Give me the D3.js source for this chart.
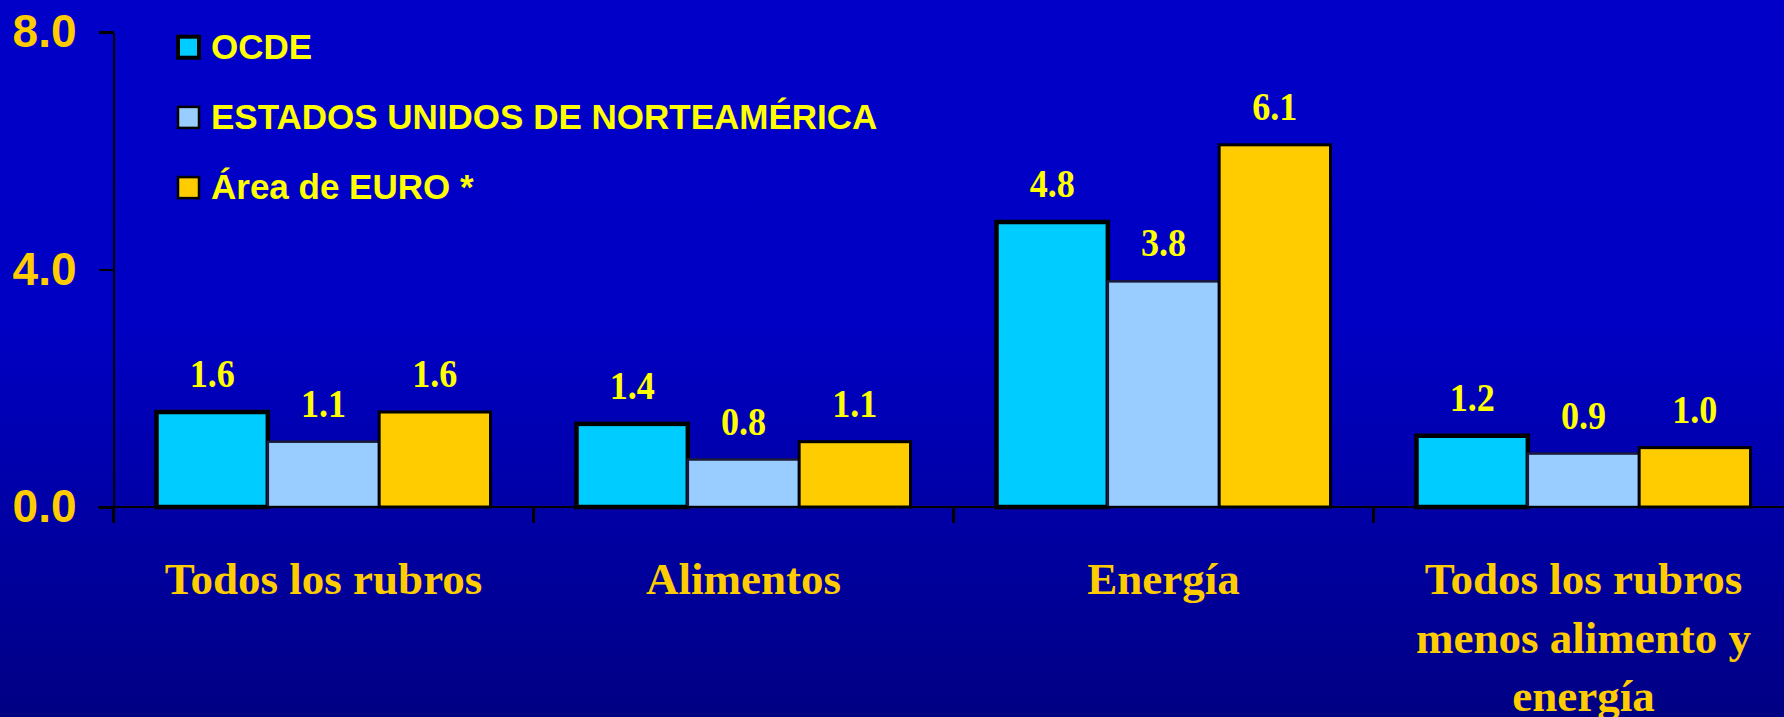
<!DOCTYPE html>
<meta charset="utf-8">
<style>
body {
  margin: 0;
  background-color: #0000C8;
}
.axis path,
.axis line {
  fill: none;
  stroke: #000;
  stroke-width: 2.5px;
  shape-rendering: crispEdges;
}
.axis--y text {
  font: bold 46px "Liberation Sans", Arial, sans-serif;
  fill: #FFCC00;
}
.legend text {
  font: bold 35px "Liberation Sans", Arial, sans-serif;
  fill: #FFFF00;
}
.value {
  font: bold 41px "Liberation Serif", "Times New Roman", serif;
  fill: #FFFF00;
  text-anchor: middle;
}
.cat {
  font: bold 45px "Liberation Serif", "Times New Roman", serif;
  fill: #FFCC00;
  text-anchor: middle;
}
</style>
<body>
<svg width="1784" height="717"></svg>
<script src="https://d3js.org/d3.v7.min.js"></script>
<script>
// data
var categories = ["Todos los rubros", "Alimentos", "Energía", "Todos los rubros menos alimento y energía"];
var catLines = [["Todos los rubros"], ["Alimentos"], ["Energía"], ["Todos los rubros", "menos alimento y", "energía"]];
var series = ["OCDE", "ESTADOS UNIDOS DE NORTEAMÉRICA", "Área de EURO *"];
var ocde = [1.6, 1.4, 4.8, 1.2];
var eeuu = [1.1, 0.8, 3.8, 0.9];
var euro = [1.6, 1.1, 6.1, 1.0];
var yTicks = [0, 4, 8];

var colors = ["#00CCFF", "#99CCFF", "#FFCC00"];
var strokes = [{c: "#000", w: 4.5}, {c: "#1a1a3a", w: 2.5}, {c: "#000", w: 3}];

var svg = d3.select("svg");

// background gradient
var grad = svg.append("defs").append("linearGradient")
    .attr("id", "bg").attr("x1", 0).attr("y1", 0).attr("x2", 0).attr("y2", 1);
grad.append("stop").attr("offset", "0%").attr("stop-color", "#0000C8");
grad.append("stop").attr("offset", "45%").attr("stop-color", "#0000C4");
grad.append("stop").attr("offset", "100%").attr("stop-color", "#000084");
svg.append("rect").attr("width", 1784).attr("height", 717).attr("fill", "url(#bg)");

var values = [ocde, eeuu, euro];
var data = categories.map(function(c, i) {
  return {cat: c, vals: values.map(function(v, s) { return {s: s, v: v[i]}; })};
});

var x0 = d3.scaleBand().domain(categories).range([113.5, 1793.5]).padding(0);
var x1 = d3.scaleBand().domain(d3.range(series.length)).range([43, x0.bandwidth() - 43]).padding(0);
var y = d3.scaleLinear().domain([0, 8]).range([507, 32]);

// y axis
svg.append("g")
    .attr("class", "axis axis--y")
    .attr("transform", "translate(113.5,0)")
    .call(d3.axisLeft(y).tickValues(yTicks).tickFormat(d3.format(".1f")).tickSize(15).tickPadding(22).tickSizeOuter(0));

// bars
var groups = svg.selectAll(".grp")
    .data(data)
  .enter().append("g")
    .attr("class", "grp")
    .attr("transform", function(d) { return "translate(" + x0(d.cat) + ",0)"; });

groups.selectAll("rect")
    .data(function(d) { return d.vals; })
  .enter().append("rect")
    .attr("x", function(d) { return x1(d.s); })
    .attr("y", function(d) { return y(d.v); })
    .attr("width", x1.bandwidth())
    .attr("height", function(d) { return y(0) - y(d.v); })
    .attr("fill", function(d) { return colors[d.s]; })
    .attr("stroke", function(d) { return strokes[d.s].c; })
    .attr("stroke-width", function(d) { return strokes[d.s].w; });

// value labels, a bit narrow like the original
groups.selectAll(".value")
    .data(function(d) { return d.vals; })
  .enter().append("text")
    .attr("class", "value")
    .attr("transform", function(d) {
      return "translate(" + (x1(d.s) + x1.bandwidth() / 2) + "," + (y(d.v) - 25) + ") scale(0.88,1)";
    })
    .text(function(d) { return d3.format(".1f")(d.v); });

// x axis baseline and category ticks
var xg = svg.append("g").attr("class", "axis axis--x");
xg.append("line")
    .attr("x1", 98).attr("x2", 1784)
    .attr("y1", y(0)).attr("y2", y(0));
xg.selectAll(".tick")
    .data(categories)
  .enter().append("line")
    .attr("x1", function(d) { return x0(d); })
    .attr("x2", function(d) { return x0(d); })
    .attr("y1", y(0)).attr("y2", y(0) + 16);

// category labels
svg.selectAll(".cat")
    .data(categories)
  .enter().append("text")
    .attr("class", "cat")
    .attr("x", function(d) { return x0(d) + x0.bandwidth() / 2; })
    .attr("y", 594)
    .each(function(d, i) {
      var t = d3.select(this);
      catLines[i].forEach(function(line, k) {
        t.append("tspan")
          .attr("x", x0(d) + x0.bandwidth() / 2)
          .attr("dy", k === 0 ? 0 : 58.5)
          .text(line);
      });
    });

// legend
var legend = svg.append("g").attr("class", "legend")
  .selectAll("g")
    .data(series)
  .enter().append("g")
    .attr("transform", function(d, i) { return "translate(178," + (58.7 + i * 70.2) + ")"; });

legend.append("rect")
    .attr("x", 0).attr("y", -22)
    .attr("width", 21).attr("height", 21)
    .attr("fill", function(d, i) { return colors[i]; })
    .attr("stroke", "#000")
    .attr("stroke-width", function(d, i) { return i === 0 ? 4 : 2.5; });

legend.append("text")
    .attr("x", 33)
    .attr("y", 0)
    .text(function(d) { return d; });
</script>
</body>
